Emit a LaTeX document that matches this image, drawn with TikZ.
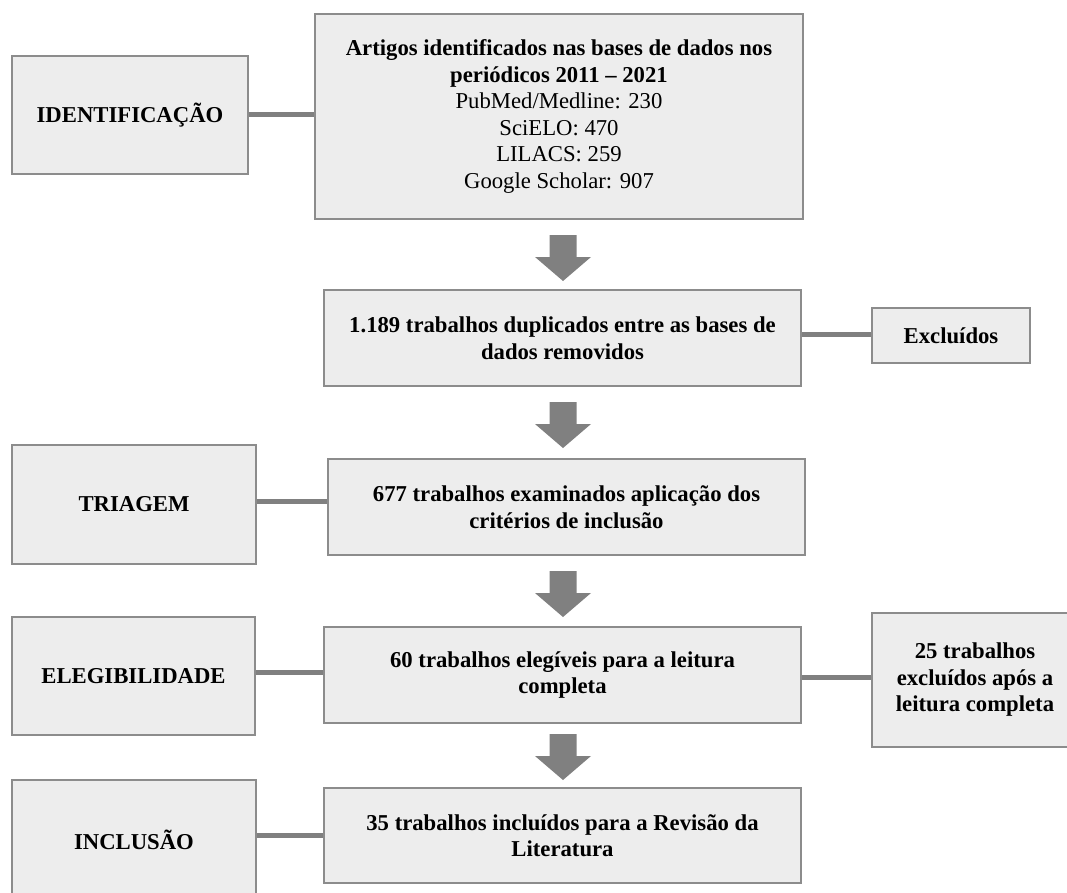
\documentclass[tikz,border=0pt]{standalone}
\usepackage{fontspec}
\setmainfont{Liberation Serif}
\definecolor{boxfill}{HTML}{EDEDED}
\definecolor{boxline}{HTML}{8C8C8C}
\definecolor{conngray}{HTML}{808080}
\tikzset{
  box/.style={draw=boxline, fill=boxfill, line width=2.2pt, align=center, inner sep=0pt,
    font=\fontsize{22.7}{26.5}\selectfont\bfseries},
  conn/.style={draw=conngray, line width=5pt},
}
\newcommand{\blockarrow}[1]{%
  \fill[conngray] (549.5,#1) -- (576.5,#1) -- (576.5,#1+22) -- (591,#1+22) -- (563,#1+46)
    -- (535,#1+22) -- (549.5,#1+22) -- cycle;}
\begin{document}
\begin{tikzpicture}[x=1pt,y=-1pt]
\useasboundingbox (0,0) rectangle (1067,892);
\clip (0,0) rectangle (1067,892);
\fill[white] (0,0) rectangle (1067,892);

% stage boxes
\node[box, minimum width=236pt, minimum height=118pt] (ident) at (130,115) {IDENTIFICAÇÃO};
\node[box, minimum width=244pt, minimum height=119pt] (triagem) at (134,504.5) {TRIAGEM};
\node[box, minimum width=243pt, minimum height=118pt] (eleg) at (133.5,676) {ELEGIBILIDADE};
\node[box, minimum width=244pt, minimum height=120pt] (incl) at (134,840) {INCLUSÃO};

% main column
\node[box, minimum width=488pt, minimum height=205pt] (arts) at (559,116.5)
  {Artigos identificados nas bases de dados nos\\periódicos 2011 -- 2021\\
   \mdseries PubMed/Medline: 230\\\mdseries SciELO: 470\\\mdseries LILACS: 259\\\mdseries Google Scholar: 907};
\node[box, minimum width=477pt, minimum height=96pt] (dup) at (562.5,338)
  {1.189 trabalhos duplicados entre as bases de\\dados removidos};
\node[box, minimum width=477pt, minimum height=96pt] (exam) at (566.5,507)
  {677 trabalhos examinados aplicação dos\\critérios de inclusão};
\node[box, minimum width=477pt, minimum height=96pt] (sel) at (562.5,675)
  {60 trabalhos elegíveis para a leitura\\completa};
\node[box, minimum width=477pt, minimum height=95pt] (fin) at (562.5,835.5)
  {35 trabalhos incluídos para a Revisão da\\Literatura};

% side boxes
\node[box, minimum width=158pt, minimum height=55pt] (excl) at (951,335.5) {Excluídos};
\node[box, minimum width=206pt, minimum height=134pt] (exc25) at (975,680)
  {25 trabalhos\\excluídos após a\\leitura completa};

% connectors
\draw[conn] (ident.east |- 0,114) -- (arts.west |- 0,114);
\draw[conn] (dup.east |- 0,334) -- (excl.west |- 0,334);
\draw[conn] (triagem.east |- 0,501) -- (exam.west |- 0,501);
\draw[conn] (eleg.east |- 0,672) -- (sel.west |- 0,672);
\draw[conn] (sel.east |- 0,677) -- (exc25.west |- 0,677);
\draw[conn] (incl.east |- 0,835) -- (fin.west |- 0,835);

% block arrows
\blockarrow{235}
\blockarrow{402}
\blockarrow{571}
\blockarrow{734}
\end{tikzpicture}
\end{document}
